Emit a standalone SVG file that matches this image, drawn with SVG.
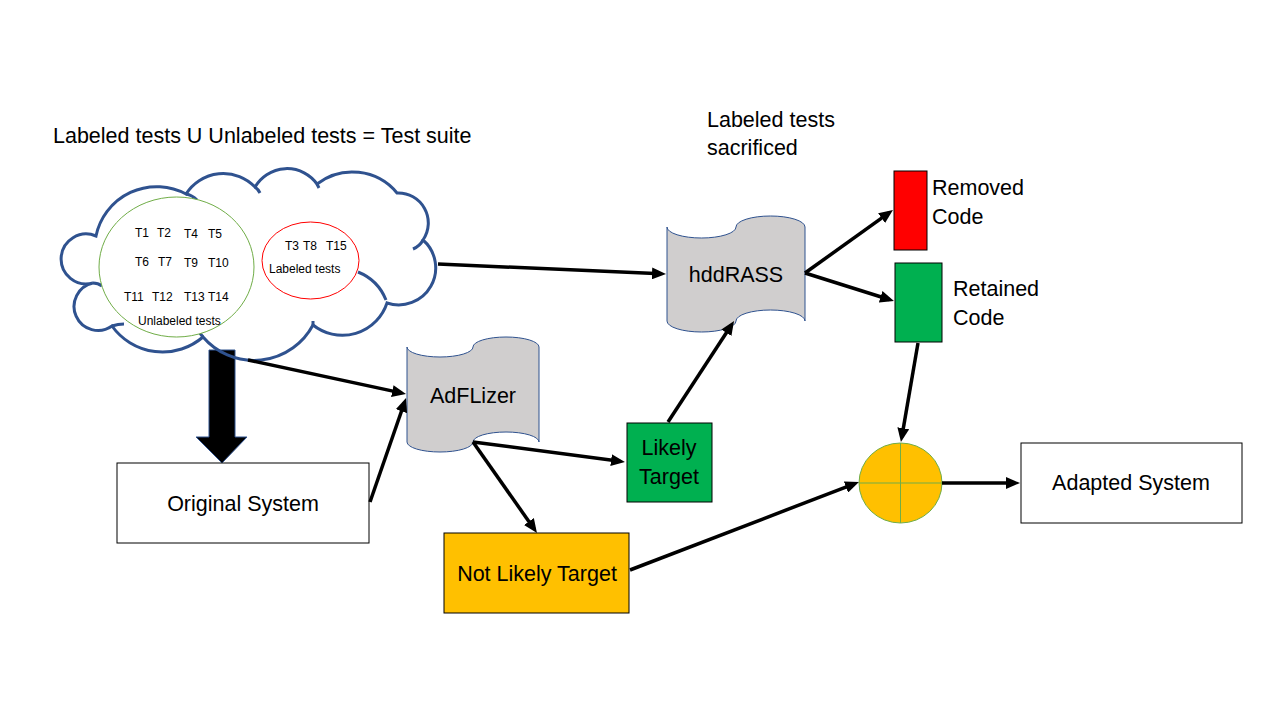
<svg xmlns="http://www.w3.org/2000/svg" width="1280" height="720" viewBox="0 0 1280 720">
  <style>
    text { font-family: "Liberation Sans", Arial, sans-serif; fill: #000; }
    .lg { font-size: 21.5px; }
    .sm { font-size: 12px; }
    .conn { stroke: #000; stroke-width: 3.5; fill: none; marker-end: url(#ah); }
    .tape { fill: #D0CECE; stroke: #2F528F; stroke-width: 1; }
    .box { stroke: #000; stroke-width: 1; }
  </style>
  <defs>
    <marker id="ah" markerUnits="userSpaceOnUse" markerWidth="14" markerHeight="12" refX="9" refY="6" orient="auto">
      <path d="M0,0 L14,6 L0,12 z" fill="#000"/>
    </marker>
  </defs>
  <rect width="1280" height="720" fill="#fff"/>

  <text class="lg" x="53" y="143">Labeled tests U Unlabeled tests = Test suite</text>
  <text class="lg" x="707" y="127">Labeled tests</text>
  <text class="lg" x="707" y="155">sacrificed</text>

  <g id="block-arrow">
    <path d="M209,350 L235,350 L235,437 L247,437 L222,463 L196,437 L209,437 Z" fill="#000" stroke="#2F528F" stroke-width="1"/>
  </g>

  <g id="test-suite">
    <path d="M96,236 A62,62 0 0 1 186,194 A44,44 0 0 1 255,187 A37,37 0 0 1 317,184 A58,58 0 0 1 397,193 A30,30 0 0 1 423,240 A37,37 0 0 1 387,303 A47,47 0 0 1 313,325 A67,67 0 0 1 203,337 A62,62 0 0 1 112,326 A24,24 0 1 1 93,283 A25,25 0 1 1 96,236 Z" fill="none" stroke="#2F528F" stroke-width="3"/>
    <path d="M358,272 Q378,280 386,300 M413,249 Q420,246 423,240 M186,194 Q192,195 197,200 M255,187 Q258,189 260,193 M317,184 L319,188 M313,325 L313,321 M203,337 L199,332 M112,326 Q118,324 124,324 M93,283 Q98,283 102,286" fill="none" stroke="#2F528F" stroke-width="3"/>
    <g id="unlabeled">
      <ellipse cx="176.5" cy="267" rx="77.5" ry="70" fill="#fff" stroke="#70AD47" stroke-width="1"/>
      <text class="sm" x="135" y="237">T1</text>
      <text class="sm" x="157" y="237">T2</text>
      <text class="sm" x="184" y="238">T4</text>
      <text class="sm" x="208" y="238">T5</text>
      <text class="sm" x="135" y="266">T6</text>
      <text class="sm" x="158" y="266">T7</text>
      <text class="sm" x="184" y="267">T9</text>
      <text class="sm" x="208" y="267">T10</text>
      <text class="sm" x="124" y="301">T11</text>
      <text class="sm" x="152" y="301">T12</text>
      <text class="sm" x="184" y="301">T13</text>
      <text class="sm" x="208" y="301">T14</text>
      <text class="sm" x="138" y="325">Unlabeled tests</text>
    </g>
    <g id="labeled">
      <ellipse cx="310.5" cy="260.5" rx="48.5" ry="38.5" fill="#fff" stroke="#FF0000" stroke-width="1"/>
      <text class="sm" x="285" y="250">T3</text>
      <text class="sm" x="303" y="250">T8</text>
      <text class="sm" x="326" y="250">T15</text>
      <text class="sm" x="269" y="273">Labeled tests</text>
    </g>
  </g>

  <g id="original-system">
    <rect class="box" x="117" y="463" width="252" height="80" fill="#fff"/>
    <text class="lg" x="243" y="511" text-anchor="middle">Original System</text>
  </g>

  <g id="adflizer">
    <path class="tape" d="M407,347 A33,10 0 0 0 473,347 A33,10 0 0 1 539,347 L539,442 A33,10 0 0 0 473,442 A33,10 0 0 1 407,442 Z"/>
    <text class="lg" x="473" y="403" text-anchor="middle">AdFLizer</text>
  </g>

  <g id="hddrass">
    <path class="tape" d="M667,227 A34.5,11 0 0 0 736,227 A34.5,11 0 0 1 805,227 L805,321 A34.5,11 0 0 0 736,321 A34.5,11 0 0 1 667,321 Z"/>
    <text class="lg" x="736" y="282" text-anchor="middle">hddRASS</text>
  </g>

  <g id="likely-target">
    <rect class="box" x="627" y="423" width="85" height="79" fill="#00B050"/>
    <text class="lg" x="669" y="455" text-anchor="middle">Likely</text>
    <text class="lg" x="669" y="484" text-anchor="middle">Target</text>
  </g>

  <g id="not-likely-target">
    <rect class="box" x="444" y="533" width="185" height="80" fill="#FFC000"/>
    <text class="lg" x="537" y="581" text-anchor="middle">Not Likely Target</text>
  </g>

  <g id="removed-code">
    <rect class="box" x="894" y="171" width="33" height="79" fill="#FF0000"/>
    <text class="lg" x="932" y="195">Removed</text>
    <text class="lg" x="932" y="224">Code</text>
  </g>

  <g id="retained-code">
    <rect class="box" x="895" y="263" width="47" height="79" fill="#00B050"/>
    <text class="lg" x="953" y="296">Retained</text>
    <text class="lg" x="953" y="325">Code</text>
  </g>

  <g id="merge">
    <ellipse cx="900.5" cy="483" rx="41.5" ry="40" fill="#FFC000" stroke="#70AD47" stroke-width="1"/>
    <path d="M859,483 L942,483 M900.5,443 L900.5,523" stroke="#70AD47" stroke-width="1"/>
  </g>

  <g id="adapted-system">
    <rect class="box" x="1021" y="443" width="221" height="80" fill="#fff"/>
    <text class="lg" x="1131" y="490" text-anchor="middle">Adapted System</text>
  </g>

  <g id="connectors">
    <line class="conn" x1="438" y1="264" x2="661" y2="273.8"/>
    <line class="conn" x1="248" y1="360" x2="401.1" y2="392.9"/>
    <line class="conn" x1="370" y1="502" x2="404.4" y2="402.7"/>
    <line class="conn" x1="473" y1="442" x2="620" y2="461.3"/>
    <line class="conn" x1="473" y1="442" x2="534.1" y2="528.9"/>
    <line class="conn" x1="668" y1="422" x2="731.3" y2="325.2"/>
    <line class="conn" x1="805" y1="273" x2="888.9" y2="212.9"/>
    <line class="conn" x1="805" y1="273" x2="889.2" y2="299.5"/>
    <line class="conn" x1="918" y1="343" x2="901.8" y2="437.1"/>
    <line class="conn" x1="942" y1="483" x2="1015" y2="483"/>
    <line class="conn" x1="630" y1="570" x2="854.3" y2="483.8"/>
  </g>
</svg>
